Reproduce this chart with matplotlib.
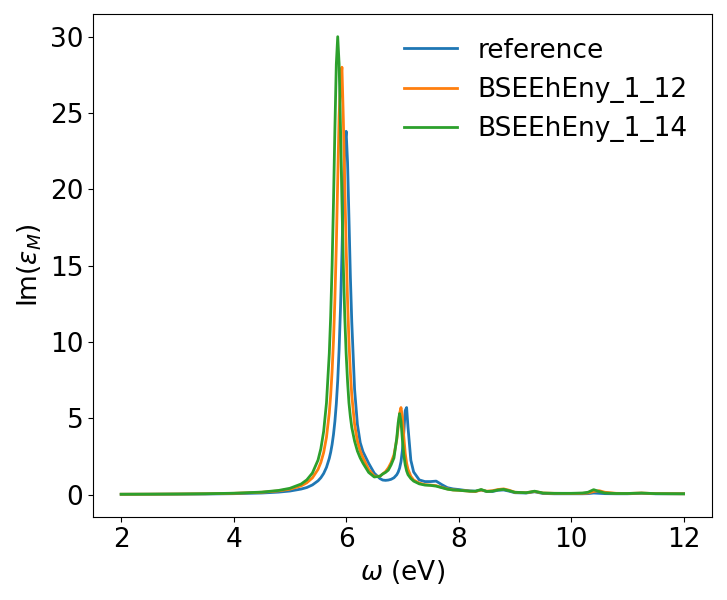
import matplotlib
matplotlib.use('Agg')
import matplotlib.pyplot as plt

# photon energy grid (eV)
omega = [2.0, 2.5, 3.0, 3.5, 4.0, 4.5, 4.8, 5.0, 5.2, 5.3, 5.4, 5.5, 5.55, 5.6, 5.65,
         5.7, 5.725, 5.75, 5.775, 5.8, 5.825, 5.85, 5.875, 5.9, 5.925, 5.95, 5.975,
         6.0, 6.025, 6.05, 6.075, 6.1, 6.15, 6.2, 6.25, 6.3, 6.4, 6.5, 6.6,
         6.65, 6.7, 6.75, 6.8, 6.85, 6.9, 6.925, 6.95, 6.975, 7.0, 7.025, 7.05,
         7.075, 7.1, 7.15, 7.2, 7.3, 7.4, 7.5, 7.6, 7.7, 7.8, 7.9, 8.0,
         8.1, 8.2, 8.3, 8.4, 8.5, 8.6, 8.7, 8.8, 8.9, 9.0, 9.2, 9.35,
         9.5, 9.7, 10.0, 10.2, 10.3, 10.4, 10.5, 10.6, 10.8, 11.0, 11.25, 11.5, 12.0]

eps_reference = [0.015, 0.018, 0.025, 0.035, 0.057, 0.1, 0.16, 0.23, 0.36, 0.46, 0.63, 0.9, 1.1, 1.38, 1.78,
                 2.37, 2.77, 3.28, 3.94, 4.8, 5.94, 7.46, 9.52, 12.27, 15.76, 19.65, 22.85,
                 23.8, 21.75, 18.1, 14.3, 11.3, 6.9, 4.6, 3.4, 2.8, 2.05, 1.4, 1.05,
                 0.95, 0.93, 0.95, 1.0, 1.1, 1.3, 1.47, 1.73, 2.15, 2.9, 4.07, 5.5,
                 5.7, 4.4, 2.25, 1.48, 0.96, 0.85, 0.85, 0.88, 0.65, 0.45, 0.37, 0.33,
                 0.28, 0.24, 0.22, 0.3, 0.2, 0.2, 0.28, 0.3, 0.22, 0.12, 0.1, 0.18,
                 0.07, 0.05, 0.05, 0.05, 0.06, 0.1, 0.08, 0.06, 0.05, 0.05, 0.08, 0.05, 0.05]

eps_1_12 = [0.02, 0.025, 0.035, 0.05, 0.08, 0.15, 0.24, 0.35, 0.57, 0.77, 1.09, 1.65, 2.1, 2.75, 3.75,
            5.35, 6.52, 8.07, 10.1, 12.8, 16.3, 20.6, 24.8, 27.0, 28.0, 24.6, 20.4,
            16.2, 12.7, 10.0, 8.0, 6.5, 4.6, 3.5, 2.85, 2.4, 1.65, 1.2, 1.2,
            1.35, 1.5, 1.75, 2.1, 2.6, 3.6, 4.4, 5.3, 5.7, 5.1, 3.8, 2.7,
            2.05, 1.65, 1.2, 0.95, 0.75, 0.65, 0.62, 0.58, 0.47, 0.37, 0.3, 0.28,
            0.25, 0.22, 0.2, 0.3, 0.22, 0.25, 0.33, 0.37, 0.28, 0.15, 0.12, 0.2,
            0.1, 0.08, 0.07, 0.08, 0.1, 0.2, 0.25, 0.15, 0.08, 0.07, 0.1, 0.06, 0.05]

eps_1_14 = [0.02, 0.027, 0.037, 0.054, 0.087, 0.16, 0.27, 0.41, 0.69, 0.96, 1.41, 2.26, 3.0, 4.14, 6.0,
            9.23, 11.7, 15.0, 19.2, 24.0, 28.2, 30.0, 28.2, 24.0, 19.2, 15.0, 11.7,
            9.23, 7.4, 6.0, 5.1, 4.4, 3.5, 2.85, 2.4, 2.05, 1.45, 1.15, 1.2,
            1.35, 1.45, 1.6, 1.95, 2.4, 3.7, 4.7, 5.3, 4.8, 3.6, 2.6, 1.95,
            1.55, 1.3, 1.05, 0.88, 0.7, 0.62, 0.6, 0.55, 0.45, 0.35, 0.3, 0.28,
            0.25, 0.22, 0.22, 0.33, 0.2, 0.22, 0.3, 0.34, 0.25, 0.15, 0.12, 0.22,
            0.1, 0.08, 0.08, 0.1, 0.15, 0.32, 0.2, 0.1, 0.07, 0.07, 0.1, 0.06, 0.05]

labels = ['reference', 'BSEEhEny_1_12', 'BSEEhEny_1_14']

plt.rcParams['font.size'] = 19

fig = plt.figure(figsize=(7.27, 6.0), dpi=100)
ax = fig.add_axes([0.128, 0.138, 0.851, 0.839])

for y, lab in zip([eps_reference, eps_1_12, eps_1_14], labels):
    ax.plot(omega, y, label=lab, lw=2)

ax.set_xlabel(r'$\omega$ (eV)')
ax.set_ylabel(r'Im($\epsilon_M$)')
ax.set_yticks([0, 5, 10, 15, 20, 25, 30])
ax.legend(loc='upper right', frameon=False)

fig.savefig('out.png', dpi=100)
